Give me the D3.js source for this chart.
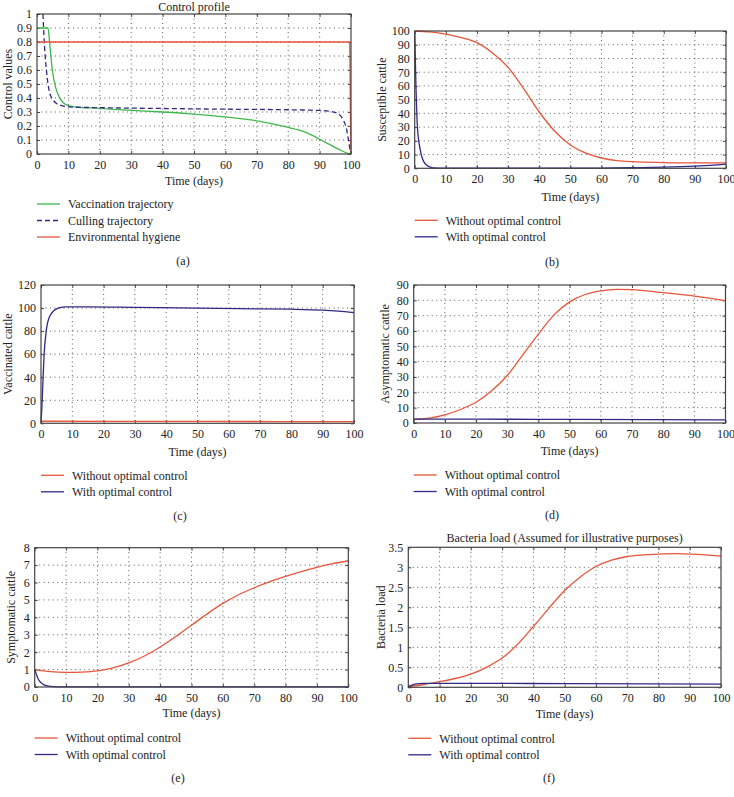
<!DOCTYPE html>
<html>
<head>
<meta charset="utf-8">
<script src="https://cdn.jsdelivr.net/npm/d3@7"></script>
<style>
  body { margin: 0; background: #fff; }
  svg text { font-family: "Liberation Serif", "DejaVu Serif", serif; fill: #222; }
</style>
</head>
<body>
<div id="chart"></div>
<script>
// tick values per panel
var ticksA = [0, 0.1, 0.2, 0.3, 0.4, 0.5, 0.6, 0.7, 0.8, 0.9, 1];
var ticksB = [0, 10, 20, 30, 40, 50, 60, 70, 80, 90, 100];
var ticksC = [0, 20, 40, 60, 80, 100, 120];
var ticksD = [0, 10, 20, 30, 40, 50, 60, 70, 80, 90];
var ticksE = [0, 1, 2, 3, 4, 5, 6, 7, 8];
var ticksF = [0, 0.5, 1, 1.5, 2, 2.5, 3, 3.5];
var timeTicks = [0, 10, 20, 30, 40, 50, 60, 70, 80, 90, 100];

// (a) control profile  [day, value]
var vaccination = [[0, 0.9], [3.5, 0.9], [4, 0.8], [4.5, 0.68], [5, 0.58], [6, 0.47], [7, 0.41], [8, 0.375], [9, 0.355], [10, 0.345], [12, 0.337], [20, 0.326], [30, 0.312], [40, 0.3], [50, 0.285], [60, 0.265], [70, 0.237], [75, 0.215], [80, 0.19], [85, 0.16], [88, 0.13], [90, 0.105], [93, 0.07], [96, 0.035], [99, 0.005], [100, 0]];
var culling = [[1.9, 1.0], [2.2, 0.85], [2.6, 0.7], [3, 0.6], [3.5, 0.5], [4, 0.44], [5, 0.39], [6, 0.365], [8, 0.345], [10, 0.336], [20, 0.331], [40, 0.325], [60, 0.32], [80, 0.316], [90, 0.311], [94, 0.302], [96, 0.285], [97.5, 0.245], [98.5, 0.185], [99.2, 0.1], [99.7, 0.03], [100, 0]];
var hygiene = [[0, 0.8], [99.6, 0.8], [99.8, 0.3], [100, 0]];

// (b) susceptible cattle
var susceptibleWithout = [[0, 100], [5, 99.3], [10, 97.7], [15, 95.2], [20, 91.5], [25, 84], [30, 73.5], [35, 58], [40, 41], [45, 27], [50, 17], [55, 11], [60, 7.5], [65, 5.6], [70, 4.8], [80, 4.2], [90, 3.9], [100, 3.9]];
var susceptibleWith = [[0, 100], [0.2, 80], [0.4, 60], [0.6, 45], [0.8, 33], [1, 26], [1.5, 17], [2, 11], [2.5, 7], [3, 4.5], [4, 2], [5, 0.8], [6, 0.3], [10, 0.1], [50, 0.1], [60, 0.2], [70, 0.4], [80, 0.8], [90, 1.6], [95, 2.2], [100, 3.0]];

// (c) vaccinated cattle
var vaccinatedWithout = [[0, 1.8], [50, 1.6], [100, 1.5]];
var vaccinatedWith = [[0, 0], [0.3, 15], [0.6, 35], [1, 60], [1.5, 76], [2, 86], [2.5, 91], [3, 94], [4, 97.5], [5, 99.3], [6, 100.3], [8, 101], [15, 101], [30, 100.6], [50, 100], [70, 99.3], [80, 99], [90, 98.2], [95, 97.3], [100, 96]];

// (d) asymptomatic cattle
var asymptomaticWithout = [[0, 2.5], [5, 3.2], [10, 5.3], [15, 8.8], [20, 13.5], [25, 21], [30, 31], [35, 44.5], [40, 58], [45, 70.5], [50, 79], [55, 83.8], [60, 86.2], [65, 87.2], [70, 87], [80, 85], [90, 82.8], [100, 79.8]];
var asymptomaticWith = [[0, 2.5], [20, 2.5], [50, 2.3], [100, 2]];

// (e) symptomatic cattle
var symptomaticWithout = [[0, 1], [5, 0.88], [10, 0.84], [15, 0.86], [20, 0.93], [25, 1.1], [30, 1.38], [35, 1.78], [40, 2.3], [45, 2.9], [50, 3.55], [55, 4.2], [60, 4.8], [65, 5.3], [70, 5.7], [75, 6.05], [80, 6.35], [85, 6.63], [90, 6.87], [95, 7.08], [100, 7.25]];
var symptomaticWith = [[0, 1], [0.5, 0.75], [1, 0.5], [2, 0.25], [3, 0.12], [4, 0.06], [6, 0.02], [10, 0.01], [100, 0.01]];

// (f) bacteria load
var bacteriaWithout = [[0, 0.02], [5, 0.07], [10, 0.14], [15, 0.22], [20, 0.33], [25, 0.5], [30, 0.73], [35, 1.08], [40, 1.52], [45, 1.98], [50, 2.42], [55, 2.76], [60, 3.02], [65, 3.18], [70, 3.27], [75, 3.31], [80, 3.33], [85, 3.34], [90, 3.33], [95, 3.31], [100, 3.28]];
var bacteriaWith = [[0, 0], [1, 0.05], [2, 0.08], [5, 0.1], [20, 0.1], [50, 0.09], [100, 0.08]];

var redColor = "#e8553a";
var blueColor = "#2e2a85";
var greenColor = "#3fb84b";

var svg = d3.select("#chart").append("svg")
    .attr("width", 734)
    .attr("height", 797);

// one panel: box, dotted grid, axes, lines, legend
function drawPanel(p) {
    var x = d3.scaleLinear().domain([0, 100]).range([p.left, p.right]);
    var y = d3.scaleLinear().domain([p.yTicks[0], p.yTicks[p.yTicks.length - 1]]).range([p.bottom, p.top]);
    var g = svg.append("g");

    // dotted grid
    g.selectAll(".gx").data(timeTicks.slice(1, -1)).enter().append("line")
        .attr("x1", d => x(d)).attr("x2", d => x(d))
        .attr("y1", p.top).attr("y2", p.bottom)
        .attr("stroke", "#333").attr("stroke-width", 0.8).attr("stroke-dasharray", "1,3.5");
    g.selectAll(".gy").data(p.yTicks.slice(1, -1)).enter().append("line")
        .attr("x1", p.left).attr("x2", p.right)
        .attr("y1", d => y(d)).attr("y2", d => y(d))
        .attr("stroke", "#333").attr("stroke-width", 0.8).attr("stroke-dasharray", "1,3.5");

    // axes with inward ticks
    var xAxis = d3.axisBottom(x).tickValues(timeTicks).tickSizeInner(-3).tickSizeOuter(0).tickPadding(6);
    var yAxis = d3.axisLeft(y).tickValues(p.yTicks).tickSizeInner(-3).tickSizeOuter(0).tickPadding(5)
        .tickFormat(d3.format("~g"));
    var xg = g.append("g").attr("transform", `translate(0, ${p.bottom})`).call(xAxis);
    var yg = g.append("g").attr("transform", `translate(${p.left}, 0)`).call(yAxis);
    g.append("g").attr("transform", `translate(0, ${p.top})`)
        .call(d3.axisTop(x).tickValues(timeTicks).tickSizeInner(-3).tickSizeOuter(0).tickFormat(""));
    g.append("g").attr("transform", `translate(${p.right}, 0)`)
        .call(d3.axisRight(y).tickValues(p.yTicks).tickSizeInner(-3).tickSizeOuter(0).tickFormat(""));
    g.selectAll(".domain").remove();
    g.selectAll(".tick line").attr("stroke", "#444");
    [xg, yg].forEach(a => a.selectAll("text")
        .attr("font-family", "Liberation Serif, serif").attr("font-size", "12px").attr("fill", "#222"));

    // lines
    var line = d3.line().x(d => x(d[0])).y(d => y(d[1])).curve(d3.curveMonotoneX);
    p.series.forEach(function (s) {
        g.append("path")
            .datum(s.data)
            .attr("fill", "none")
            .attr("stroke", s.color)
            .attr("stroke-width", 1.3)
            .attr("stroke-dasharray", s.dash || null)
            .attr("d", line);
    });

    // box
    g.append("rect")
        .attr("x", p.left).attr("y", p.top)
        .attr("width", p.right - p.left).attr("height", p.bottom - p.top)
        .attr("fill", "none").attr("stroke", "#444").attr("stroke-width", 1.2);

    // titles and labels
    if (p.title) {
        g.append("text").attr("x", (p.left + p.right) / 2).attr("y", p.titleY)
            .attr("text-anchor", "middle").attr("font-size", "12px").text(p.title);
    }
    g.append("text")
        .attr("transform", `translate(${p.yLabelX}, ${(p.top + p.bottom) / 2}) rotate(-90)`)
        .attr("text-anchor", "middle").attr("dy", "0.35em").attr("font-size", "12px")
        .text(p.yLabel);
    g.append("text").attr("x", (p.left + p.right) / 2).attr("y", p.bottom + p.timeDy)
        .attr("text-anchor", "middle").attr("dy", "0.35em").attr("font-size", "12px")
        .text("Time (days)");

    // legend
    p.series.forEach(function (s, i) {
        var ly = p.bottom + p.legendDy + i * 16.5;
        g.append("line")
            .attr("x1", p.left).attr("x2", p.left + 23)
            .attr("y1", ly).attr("y2", ly)
            .attr("stroke", s.color).attr("stroke-width", 1.3)
            .attr("stroke-dasharray", s.dash || null);
        g.append("text").attr("x", p.left + 31).attr("y", ly)
            .attr("dy", "0.35em").attr("font-size", "12px").text(s.name);
    });

    g.append("text").attr("x", p.tagX).attr("y", p.tagY)
        .attr("text-anchor", "middle").attr("dy", "0.35em").attr("font-size", "12px")
        .text(p.tag);
}

drawPanel({
    left: 37, right: 351, top: 14, bottom: 154, yTicks: ticksA,
    title: "Control profile", titleY: 11, yLabel: "Control values", yLabelX: 8,
    timeDy: 27, legendDy: 50, tag: "(a)", tagX: 183, tagY: 261,
    series: [
        { name: "Vaccination trajectory", data: vaccination, color: greenColor },
        { name: "Culling trajectory", data: culling, color: blueColor, dash: "5,3" },
        { name: "Environmental hygiene", data: hygiene, color: redColor }
    ]
});

drawPanel({
    left: 414.7, right: 726, top: 31, bottom: 168.3, yTicks: ticksB,
    yLabel: "Susceptible cattle", yLabelX: 382,
    timeDy: 28, legendDy: 52, tag: "(b)", tagX: 552, tagY: 262,
    series: [
        { name: "Without optimal control", data: susceptibleWithout, color: redColor },
        { name: "With optimal control", data: susceptibleWith, color: blueColor }
    ]
});

drawPanel({
    left: 41, right: 354, top: 285, bottom: 423.3, yTicks: ticksC,
    yLabel: "Vaccinated cattle", yLabelX: 8,
    timeDy: 28, legendDy: 52, tag: "(c)", tagX: 180, tagY: 516,
    series: [
        { name: "Without optimal control", data: vaccinatedWithout, color: redColor },
        { name: "With optimal control", data: vaccinatedWith, color: blueColor }
    ]
});

drawPanel({
    left: 413.7, right: 725.5, top: 285, bottom: 423, yTicks: ticksD,
    yLabel: "Asymptomatic cattle", yLabelX: 385,
    timeDy: 28, legendDy: 52, tag: "(d)", tagX: 552, tagY: 515,
    series: [
        { name: "Without optimal control", data: asymptomaticWithout, color: redColor },
        { name: "With optimal control", data: asymptomaticWith, color: blueColor }
    ]
});

drawPanel({
    left: 34.7, right: 348.3, top: 547.7, bottom: 687, yTicks: ticksE,
    yLabel: "Symptomatic cattle", yLabelX: 11,
    timeDy: 26, legendDy: 51, tag: "(e)", tagX: 178, tagY: 778,
    series: [
        { name: "Without optimal control", data: symptomaticWithout, color: redColor },
        { name: "With optimal control", data: symptomaticWith, color: blueColor }
    ]
});

drawPanel({
    left: 408.3, right: 721, top: 547.3, bottom: 687.3, yTicks: ticksF,
    title: "Bacteria load (Assumed for illustrative purposes)", titleY: 542,
    yLabel: "Bacteria load", yLabelX: 381,
    timeDy: 26, legendDy: 51, tag: "(f)", tagX: 549, tagY: 778,
    series: [
        { name: "Without optimal control", data: bacteriaWithout, color: redColor },
        { name: "With optimal control", data: bacteriaWith, color: blueColor }
    ]
});
</script>
</body>
</html>
